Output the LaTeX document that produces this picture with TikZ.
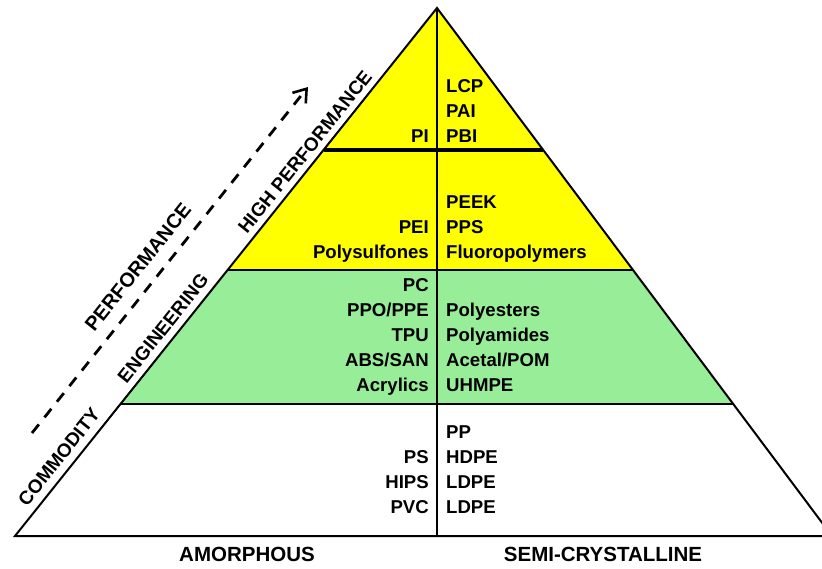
\documentclass[tikz,border=0pt]{standalone}
\usepackage{fontspec}
\setmainfont{Liberation Sans}
\usetikzlibrary{calc,arrows.meta}
\definecolor{pyryellow}{RGB}{255,255,0}
\definecolor{pyrgreen}{RGB}{152,238,152}
\begin{document}
\begin{tikzpicture}[x=1pt,y=-1pt,
  lbl/.style={font=\bfseries\fontsize{18.6}{22}\selectfont, inner sep=0pt},
  lcol/.style={lbl, anchor=base east},
  rcol/.style={lbl, anchor=base west},
  side/.style={font=\bfseries\fontsize{19}{22}\selectfont, inner sep=0pt, rotate=51.37},
  foot/.style={font=\bfseries\fontsize{20.5}{24}\selectfont, inner sep=0pt, anchor=base},
  outline/.style={line width=2pt, line join=miter},
  tier/.style={line width=2pt},
  thicktier/.style={line width=4.5pt},
  divider/.style={line width=2.4pt},
  trend/.style={line width=2.8pt, dash pattern=on 11pt off 9pt,
    -{Straight Barb[length=12pt,width=17pt,line width=2.6pt]}}]
\useasboundingbox (0,0) rectangle (822,568);
\clip (0,0) rectangle (822,568);
% pyramid corners
\coordinate (A) at (437,8);
\coordinate (L) at (15,536);
\coordinate (R) at (832,536);
\coordinate (B) at (437,536);
% tier boundaries on the two sides
\coordinate (m1L) at ($(A)!0.26894!(L)$);
\coordinate (m1R) at ($(A)!0.26894!(R)$);
\coordinate (m2L) at ($(A)!0.49621!(L)$);
\coordinate (m2R) at ($(A)!0.49621!(R)$);
\coordinate (m3L) at ($(A)!0.75!(L)$);
\coordinate (m3R) at ($(A)!0.75!(R)$);
% fills
\fill[pyryellow] (A) -- (m2L) -- (m2R) -- cycle;
\fill[pyrgreen] (m2L) -- (m2R) -- (m3R) -- (m3L) -- cycle;
% lines
\draw[thicktier] (m1L) -- (m1R);
\draw[tier] (m2L) -- (m2R);
\draw[tier] (m3L) -- (m3R);
\draw[divider] (A) -- (B);
\draw[outline] (A) -- (L) -- (R) -- cycle;
% high performance tier
\node[lcol] (pi) at (429,142) {PI};
\node[rcol] (lcp) at (446,92) {LCP};
\node[rcol] (pai) at (446,117) {PAI};
\node[rcol] (pbi) at (446,142) {PBI};
% upper engineering tier
\node[lcol] (pei) at (429,233) {PEI};
\node[lcol] (psu) at (429,258) {Polysulfones};
\node[rcol] (peek) at (446,208) {PEEK};
\node[rcol] (pps) at (446,233) {PPS};
\node[rcol] (fluoro) at (446,258) {Fluoropolymers};
% engineering tier
\node[lcol] (pc) at (429,291.5) {PC};
\node[lcol] (ppo) at (429,316.5) {PPO/PPE};
\node[lcol] (tpu) at (429,341.5) {TPU};
\node[lcol] (abs) at (429,366.5) {ABS/SAN};
\node[lcol] (acr) at (429,391.5) {Acrylics};
\node[rcol] (pest) at (446,316.5) {Polyesters};
\node[rcol] (pam) at (446,341.5) {Polyamides};
\node[rcol] (pom) at (446,366.5) {Acetal/POM};
\node[rcol] (uhmpe) at (446,391.5) {UHMPE};
% commodity tier
\node[lcol] (ps) at (429,463) {PS};
\node[lcol] (hips) at (429,488) {HIPS};
\node[lcol] (pvc) at (429,513) {PVC};
\node[rcol] (pp) at (446,438) {PP};
\node[rcol] (hdpe) at (446,463) {HDPE};
\node[rcol] (ldpe1) at (446,488) {LDPE};
\node[rcol] (ldpe2) at (446,513) {LDPE};
% side labels
\node[side] (hp) at (305,152) {HIGH PERFORMANCE};
\node[side] (eng) at (163,328) {ENGINEERING};
\node[side] (com) at (59,457) {COMMODITY};
\node[side, font=\bfseries\fontsize{20}{22}\selectfont] (perf) at (138,267) {PERFORMANCE};
% trend arrow
\coordinate (ts) at (32,433);
\coordinate (te) at (308,87);
\draw[trend] (ts) -- (te);
% bottom labels
\node[foot] (amor) at (247,561.5) {AMORPHOUS};
\node[foot] (semi) at (603,561.5) {SEMI-CRYSTALLINE};
\end{tikzpicture}
\end{document}
